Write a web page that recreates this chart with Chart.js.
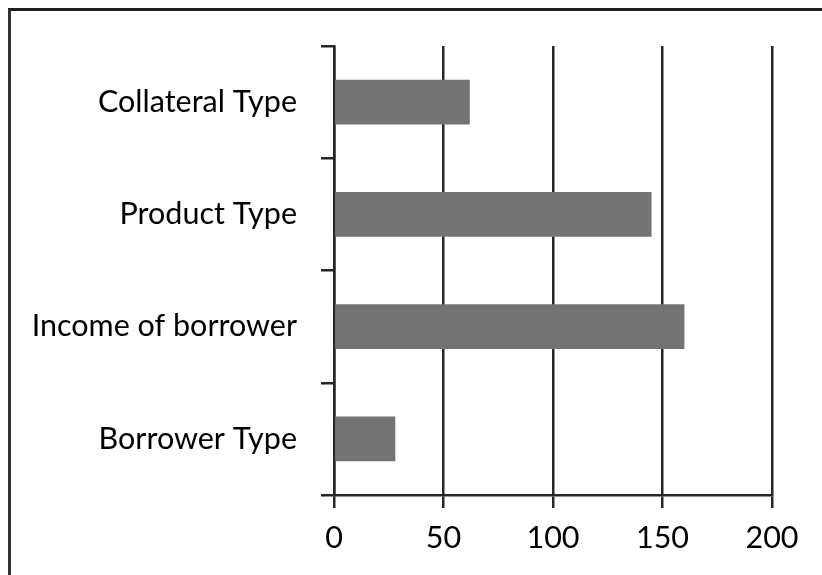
<!DOCTYPE html>
<html>
<head>
<meta charset="utf-8">
<script src="https://cdn.jsdelivr.net/npm/chart.js@4"></script>
<style>
  html, body { margin: 0; padding: 0; background: #fff; overflow: hidden; }
  #wrap { position: relative; width: 822px; height: 575px; }
  #frame { position: absolute; left: 8px; top: 8px; width: 900px; height: 700px;
           border-top: 3px solid #1e1e1e; border-left: 3px solid #333; box-sizing: border-box; }
  canvas { position: absolute; left: 0; top: 0; }
</style>
</head>
<body>
<div id="wrap">
  <div id="frame"></div>
  <canvas id="c" width="822" height="575"></canvas>
</div>
<script>
const categories = ["Collateral Type", "Product Type", "Income of borrower", "Borrower Type"];
const values = [62, 145, 160, 28];
const xTicks = [0, 50, 100, 150, 200];

const font = { family: "Lato, 'Open Sans', sans-serif", size: 30.5 };
const lineColor = "#262626";

new Chart(document.getElementById("c"), {
  type: "bar",
  data: {
    labels: categories,
    datasets: [{
      data: values,
      backgroundColor: "#737373",
      borderWidth: 0,
      barPercentage: 0.4,
      categoryPercentage: 1.0
    }]
  },
  options: {
    indexAxis: "y",
    responsive: false,
    animation: false,
    devicePixelRatio: 1,
    layout: { padding: { left: 10, right: 50, top: 46, bottom: 0 } },
    plugins: { legend: { display: false }, tooltip: { enabled: false } },
    scales: {
      x: {
        min: 0, max: 200,
        afterBuildTicks: (s) => { s.ticks = xTicks.map(v => ({ value: v })); },
        grid: { color: lineColor, lineWidth: 2.5, tickLength: 13, drawOnChartArea: true },
        border: { display: true, color: lineColor, width: 2.5 },
        ticks: { color: "#000", font: font, padding: 12 },
        afterFit: (s) => { s.height = 80; }
      },
      y: {
        offset: true,
        grid: { color: lineColor, lineWidth: 2.5, tickLength: 13, drawOnChartArea: false, offset: true },
        border: { display: true, color: lineColor, width: 2.5 },
        ticks: { color: "#000", font: font, padding: 24 },
        afterFit: (s) => { s.width = 324; }
      }
    }
  }
});
</script>
</body>
</html>
